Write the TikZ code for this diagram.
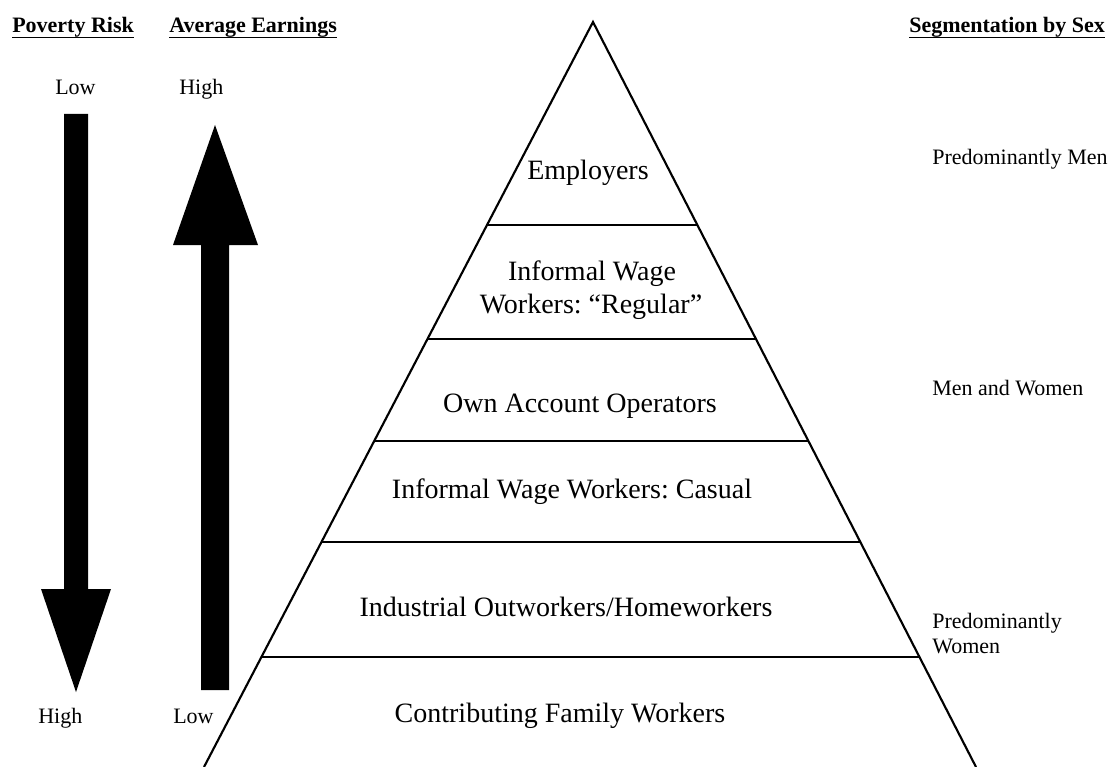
\documentclass[tikz,border=0pt]{standalone}
\usepackage{fontspec}
\setmainfont{Liberation Serif}
\usetikzlibrary{calc}
\frenchspacing
\begin{document}
\begin{tikzpicture}[x=0.75pt,y=-0.75pt,
  edge/.style={line width=1.6pt, line join=miter},
  tier/.style={line width=1.6pt},
  lbl/.style={font=\fontsize{21}{24.75}\selectfont, inner sep=0pt, anchor=base},
  side/.style={font=\fontsize{16.5}{18.75}\selectfont, inner sep=0pt, anchor=base west},
  head/.style={font=\fontsize{16.5}{20}\selectfont\bfseries, inner sep=0pt, anchor=base west},
  uline/.style={line width=1.4pt},
  bigarrow/.style={fill=black, draw=none}]
\useasboundingbox (0,0) rectangle (1111,767);

% headers
\node[head] (h1) at (12,33) {Poverty Risk};
\node[head] (h2) at (169,33) {Average Earnings};
\node[head] (h3) at (909,33) {Segmentation by Sex};
\foreach \h in {h1,h2,h3}
  \draw[uline] ($(\h.base west)+(0,4.5)$) -- ($(\h.base east)+(0,4.5)$);

% arrows
\node[side] (plow) at (55,94) {Low};
\node[side] (ehigh) at (179,94) {High};
\node[side] (phigh) at (38,723) {High};
\node[side] (elow) at (173,723) {Low};
\fill[bigarrow] (64,114) -- (88,114) -- (88,589) -- (111,589) -- (76,692) -- (41,589) -- (64,589) -- cycle;
\fill[bigarrow] (201,690) -- (229,690) -- (229,245) -- (258,245) -- (215,125) -- (173,245) -- (201,245) -- cycle;

% pyramid
\coordinate (A) at (593,22);
\coordinate (BL) at (204,767);
\coordinate (BR) at (976,767);
\draw[edge] (BL) -- (A) -- (BR);
\foreach \f/\n in {0.2725/1, 0.4255/2, 0.5624/3, 0.6980/4, 0.8523/5} {
  \coordinate (L\n) at ($(A)!\f!(BL)$);
  \coordinate (R\n) at ($(A)!\f!(BR)$);
  \draw[tier] (L\n) -- (R\n);
}

% tier labels
\node[lbl] (t1) at (588,180) {Employers};
\node[lbl] (t2a) at (592,280) {Informal Wage};
\node[lbl] (t2b) at (591,313) {Workers: “Regular”};
\node[lbl] (t3) at (580,412) {Own Account Operators};
\node[lbl] (t4) at (572,498) {Informal Wage Workers: Casual};
\node[lbl] (t5) at (566,616) {Industrial Outworkers/Homeworkers};
\node[lbl] (t6) at (560,722) {Contributing Family Workers};

% segmentation labels
\node[side] (s1) at (932,164) {Predominantly Men};
\node[side] (s2) at (932,395) {Men and Women};
\node[side] (s3a) at (932,628) {Predominantly};
\node[side] (s3b) at (932,653) {Women};
\end{tikzpicture}
\end{document}
